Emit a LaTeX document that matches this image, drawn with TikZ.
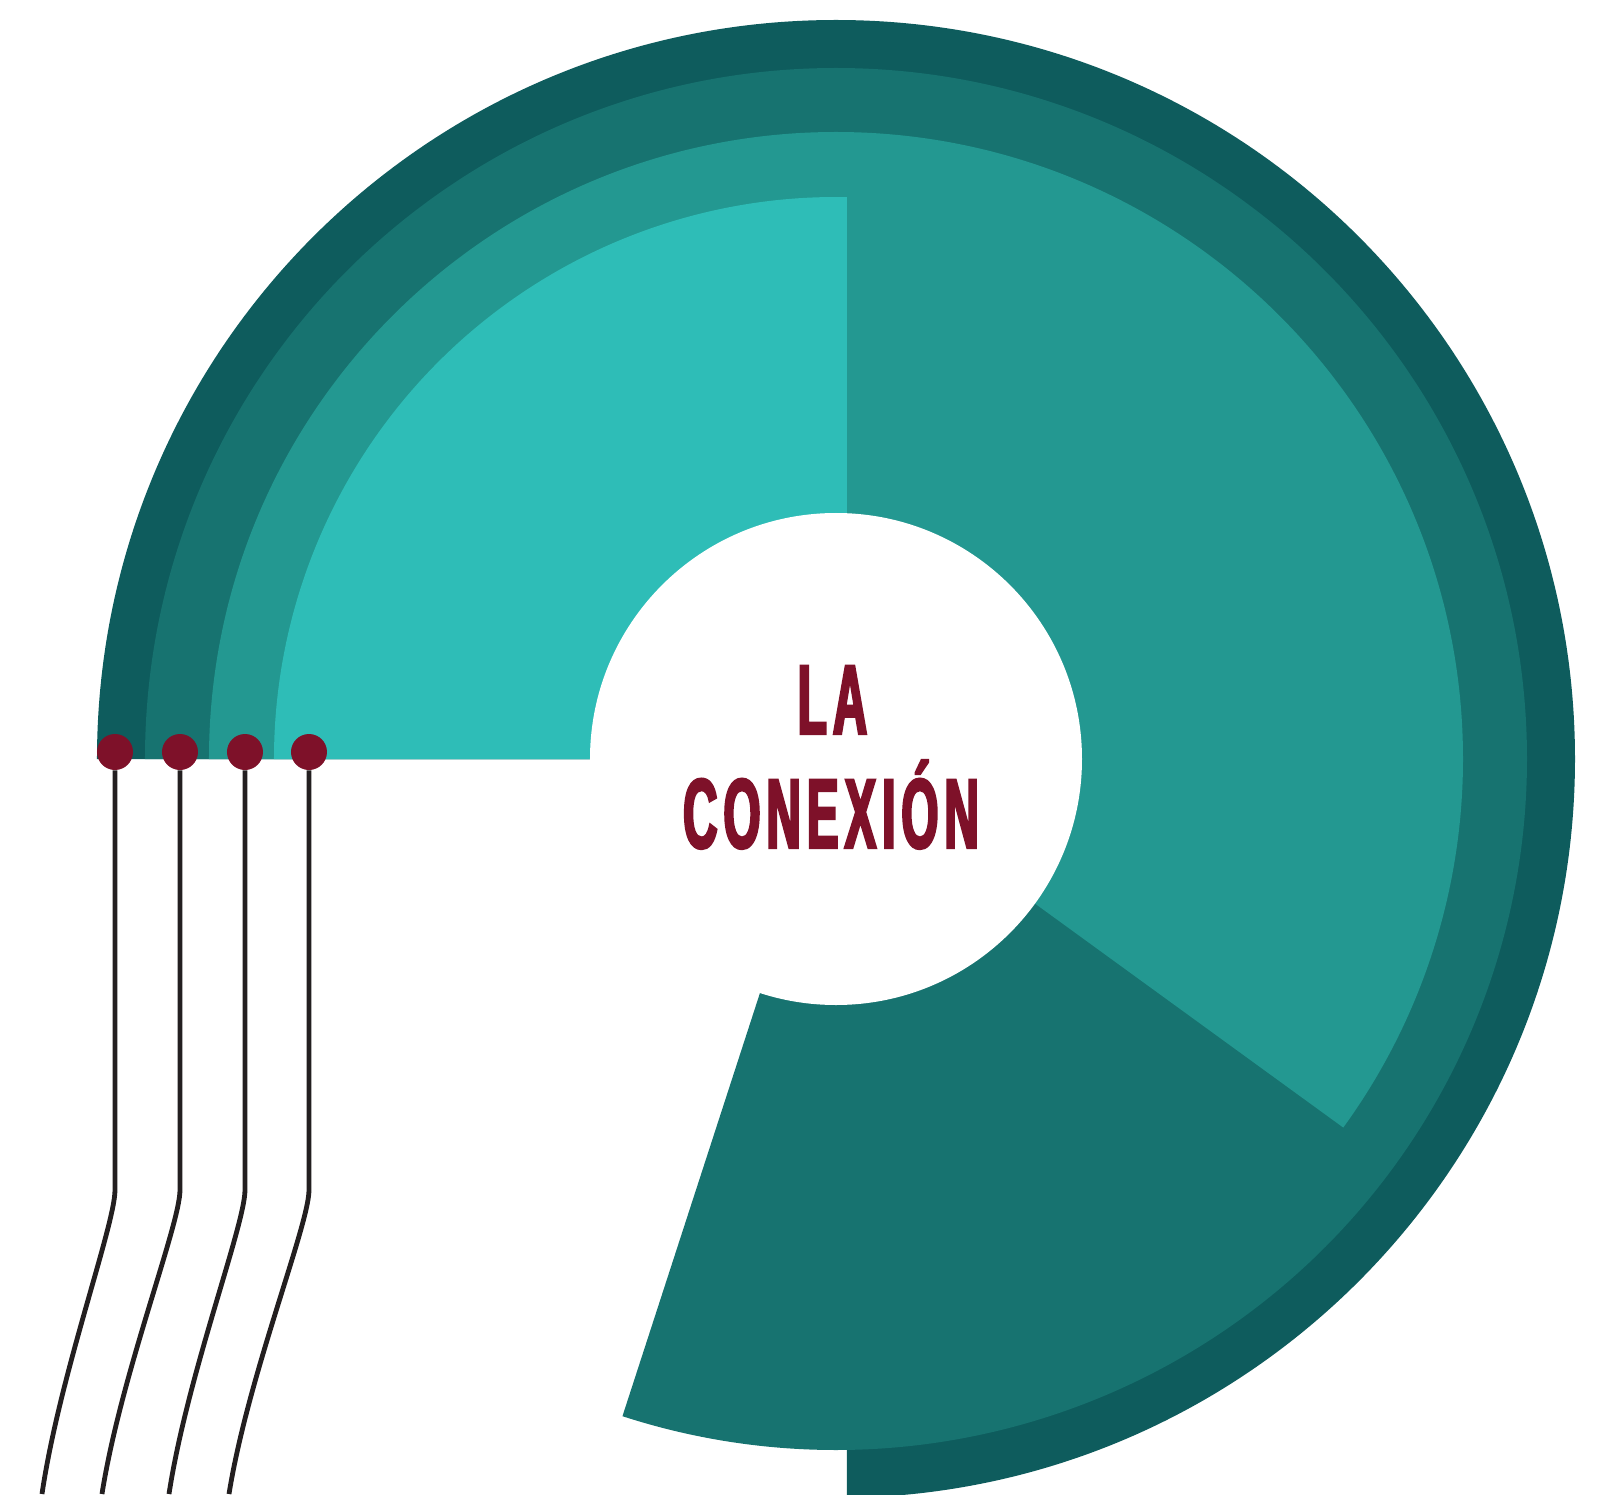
\documentclass[tikz,border=0pt]{standalone}
\usepackage{fontspec}
\usepackage{xcolor}
\usepackage{tikz}
\newfontfamily\titlefont[FakeStretch=0.48,FakeBold=2.5,LetterSpace=6]{Liberation Sans}
\definecolor{ringdark}{HTML}{0E5C5D}
\definecolor{ringmid}{HTML}{177370}
\definecolor{ringsoft}{HTML}{239891}
\definecolor{ringlight}{HTML}{2EBDB7}
\definecolor{wine}{HTML}{7E1129}
\definecolor{wirecol}{HTML}{231F20}

\begin{document}
\begin{tikzpicture}[x=0.5pt, y=0.5pt,
    pin/.style={circle, fill=wine, inner sep=0pt, minimum size=18pt},
    wire/.style={draw=wirecol, line width=2.4pt},
    title/.style={font=\titlefont\bfseries\fontsize{49.6}{57}\selectfont, text=wine, inner sep=0pt, anchor=base}]
            % frame of the picture
            \useasboundingbox (-836,-735) rectangle (764,759);
            \clip (-836,-735) rectangle (764,759);

            % Draw rings, outer to inner
            \fill[ringdark] (0,0) -- (180:739) arc[start angle=180, end angle=-89.15, radius=739] -- (11,0) -- cycle;
            \fill[ringmid] (0,0) -- (180:691) arc[start angle=180, end angle=-108, radius=691] -- cycle;
            \fill[ringsoft] (0,0) -- (180:627) arc[start angle=180, end angle=-36, radius=627] -- cycle;
            \fill[ringlight] (0,0) -- (180:562) arc[start angle=180, end angle=88.88, radius=562] -- (11,0) -- cycle;

            % hole in the middle
            \fill[white] (0,0) circle[radius=246];

            % Add title
            \node[title] (la) at (-3.5,25) {LA};
            \node[title] (conexion) at (-5,-89) {CONEXIÓN};

            % Draw pins and wires
            \foreach \i/\x/\d in {1/-721/-73, 2/-656/-78, 3/-591/-76, 4/-527/-80} {
              \node[pin] (pin\i) at (\x,7) {};
              \coordinate (end\i) at (\x+\d,-735);
              \draw[wire] (pin\i) -- (\x,-431) .. controls (\x,-466) and (\x+0.76*\d,-616) .. (end\i);
            }
        \end{tikzpicture}
\end{document}
